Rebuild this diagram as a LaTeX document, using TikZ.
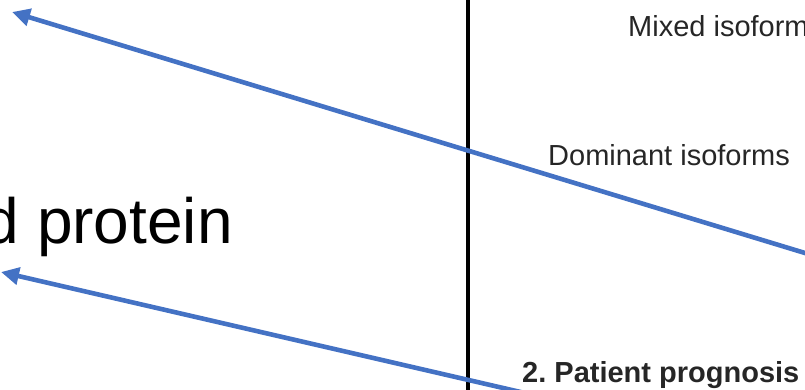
\documentclass[tikz,border=0pt]{standalone}
\usepackage{fontspec}
\setmainfont{Liberation Sans}
\usepackage{tikz}
\usetikzlibrary{arrows.meta,positioning}
\definecolor{arrowblue}{RGB}{68,114,196}

\begin{document}
\begin{tikzpicture}[x=1pt, y=-1pt, >={Triangle[length=18pt,width=17pt]},
    lbl/.style={inner sep=0pt, anchor=base west, font=\fontsize{29}{34}\selectfont, text=black!85},
    link/.style={->, arrowblue, line width=4.6pt}]
    \useasboundingbox (0,0) rectangle (805,389);
    \clip (0,0) rectangle (805,389);

    % Divider
    \coordinate (divtop) at (468,-5);
    \coordinate (divbot) at (468,395);
    \draw[line width=3.4pt] (divtop) -- (divbot);

    % Labels
    \node[lbl] (mixed) at (628,36) {Mixed isoforms};
    \node[lbl] (dominant) at (548,165) {Dominant isoforms};
    \node[lbl, font=\bfseries\fontsize{29}{34}\selectfont] (prognosis) at (522,382) {2.\ Patient prognosis};
    \node[inner sep=0pt, anchor=base east, font=\fontsize{64}{72}\selectfont] (protein) at (233,243) {d protein};

    % Arrows
    \coordinate (tipa) at (12,12);
    \coordinate (starta) at (830,260.6);
    \coordinate (tipb) at (1,272);
    \coordinate (startb) at (540,396.5);
    \draw[link] (starta) -- (tipa);
    \draw[link] (startb) -- (tipb);
\end{tikzpicture}
\end{document}
